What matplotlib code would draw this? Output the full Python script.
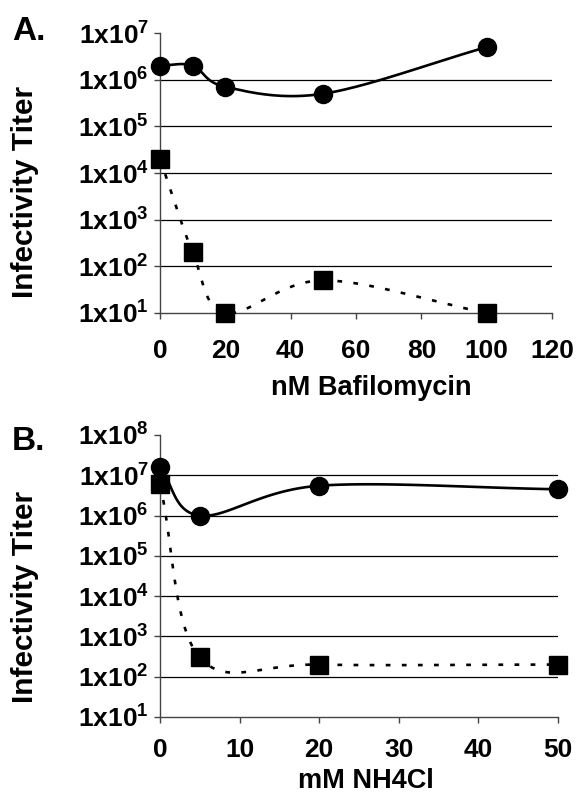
import numpy as np
import matplotlib
matplotlib.use("Agg")
import matplotlib.pyplot as plt

plt.rcParams['font.family'] = 'Liberation Sans'
plt.rcParams['font.weight'] = 'bold'
plt.rcParams['mathtext.fontset'] = 'custom'
plt.rcParams['mathtext.rm'] = 'Liberation Sans:bold'
plt.rcParams['mathtext.bf'] = 'Liberation Sans:bold'

# Panel A: bafilomycin
baf_nm = [0, 10, 20, 50, 100]
baf_circle = [2e6, 2e6, 7e5, 5e5, 5e6]
baf_square = [2e4, 2e2, 1e1, 5e1, 1e1]

# Panel B: NH4Cl
nh4_mm = [0, 5, 20, 50]
nh4_circle = [1.6e7, 1e6, 5.5e6, 4.5e6]
nh4_square = [6e6, 3e2, 2e2, 2e2]

W, H = 583, 797


def smooth(x, y, n=40):
    # Catmull-Rom through the points in (x, log y), like Excel's smoothed line
    x = np.asarray(x, float)
    ly = np.log10(y)
    px = np.concatenate([[2 * x[0] - x[1]], x, [2 * x[-1] - x[-2]]])
    py = np.concatenate([[2 * ly[0] - ly[1]], ly, [2 * ly[-1] - ly[-2]]])
    xs, ys = [], []
    t = np.linspace(0, 1, n)
    for i in range(1, len(px) - 2):
        for p, out in ((px, xs), (py, ys)):
            p0, p1, p2, p3 = p[i - 1], p[i], p[i + 1], p[i + 2]
            out.extend(0.5 * (2 * p1 + (-p0 + p2) * t
                              + (2 * p0 - 5 * p1 + 4 * p2 - p3) * t ** 2
                              + (-p0 + 3 * p1 - 3 * p2 + p3) * t ** 3))
    return np.array(xs), 10 ** np.array(ys)


def style(ax, ymax_exp, xmax, xstep, xpad):
    ax.set_yscale('log')
    ax.set_ylim(10, 10 ** ymax_exp)
    ax.set_xlim(0, xmax)
    ax.set_xticks(np.arange(0, xmax + 1, xstep))
    ax.set_yticks([10 ** k for k in range(1, ymax_exp + 1)])
    ax.set_yticklabels([r'$\mathbf{1x10^{%d}}$' % k for k in range(1, ymax_exp + 1)])
    ax.yaxis.set_minor_locator(matplotlib.ticker.NullLocator())
    for k in range(2, ymax_exp):
        ax.axhline(10 ** k, color='black', lw=0.9, zorder=1)
    for s in ('top', 'right'):
        ax.spines[s].set_visible(False)
    for s in ('left', 'bottom'):
        ax.spines[s].set_color('#444444')
        ax.spines[s].set_linewidth(1.0)
    ax.tick_params(axis='both', labelsize=19, length=4, width=1, color='#444444')
    ax.tick_params(axis='x', pad=xpad)
    ax.tick_params(axis='y', pad=4)
    for lab in ax.get_xticklabels():
        lab.set_fontweight('bold')


fig = plt.figure(figsize=(W / 100, H / 100), dpi=100)
axA = fig.add_axes([160 / W, 1 - 313 / H, 392 / W, 280 / H])
axB = fig.add_axes([160 / W, 1 - 717 / H, 398 / W, 282 / H])

for ax, x, c, s in ((axA, baf_nm, baf_circle, baf_square),
                    (axB, nh4_mm, nh4_circle, nh4_square)):
    sx, sy = smooth(x, c)
    ax.plot(sx, sy, color='black', lw=1.9, zorder=3, clip_on=False)
    sx, sy = smooth(x, s)
    ax.plot(sx, sy, color='black', lw=1.9, ls=(0, (1.8, 4.3)), zorder=3, clip_on=False)
    ax.plot(x, c, 'o', color='black', ms=13, zorder=4, clip_on=False)
    ax.plot(x, s, 's', color='black', ms=13, zorder=4, clip_on=False)

style(axA, 7, 120, 20, 15)
style(axB, 8, 50, 10, 11)

# axis titles placed as in the figure
fig.text(371 / W, 1 - 395 / H, 'nM Bafilomycin', fontsize=19.5,
         fontweight='bold', ha='center', va='baseline')
fig.text(366 / W, 1 - 788 / H, 'mM NH4Cl', fontsize=19.5,
         fontweight='bold', ha='center', va='baseline')
fig.text(25 / W, 1 - 192 / H, 'Infectivity Titer', fontsize=21.5,
         fontweight='bold', rotation=90, ha='center', va='center')
fig.text(25 / W, 1 - 597 / H, 'Infectivity Titer', fontsize=21.5,
         fontweight='bold', rotation=90, ha='center', va='center')

fig.text(12 / W, 1 - 40 / H, 'A.', fontsize=24, fontweight='bold', va='baseline')
fig.text(12 / W, 1 - 450 / H, 'B.', fontsize=24, fontweight='bold', va='baseline')

fig.savefig('out.png', dpi=100)
